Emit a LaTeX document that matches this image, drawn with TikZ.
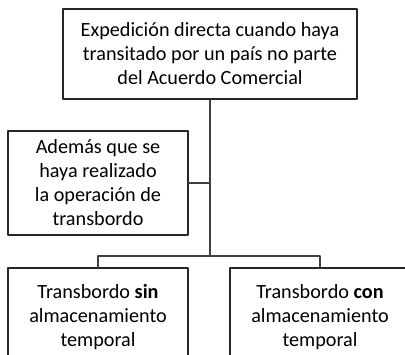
\documentclass[tikz,border=0pt]{standalone}
\usepackage{fontspec}
\setmainfont{Carlito}
\usetikzlibrary{positioning}

\begin{document}
\begin{tikzpicture}[line cap=round,line join=round,x=1pt,y=-1pt,
		caja/.style={draw=black!85,line width=1.1pt,align=center,inner sep=0pt,
			minimum width=180pt,minimum height=98pt,font=\fontsize{20.2}{24}\selectfont},
		enlace/.style={draw=black!75,line width=1.1pt}]
	\useasboundingbox (0,0) rectangle (405,355);
	\clip (0,0) rectangle (405,355);
	\node[caja,minimum width=294pt,minimum height=90pt] (expedicion) at (210,54) {Expedición directa cuando haya\\transitado por un país no parte\\del Acuerdo Comercial};
	\node[caja,minimum height=104pt] (ademas) at (98,183) {Además que se\\haya realizado\\la operación de\\transbordo};
	\node[caja] (sin) at (98,317) {Transbordo \textbf{sin}\\almacenamiento\\temporal};
	\node[caja] (con) at (320,317) {Transbordo \textbf{con}\\almacenamiento\\temporal};
	\coordinate (reparto) at (210,256);
	% tronco y ramas
	\draw[enlace] (expedicion.south) -- (reparto);
	\draw[enlace] (ademas.east) -- (expedicion.south |- ademas.east);
	\draw[enlace] (sin.north) -- (sin.north |- reparto) -- (con.north |- reparto) -- (con.north);
\end{tikzpicture}
\end{document}
